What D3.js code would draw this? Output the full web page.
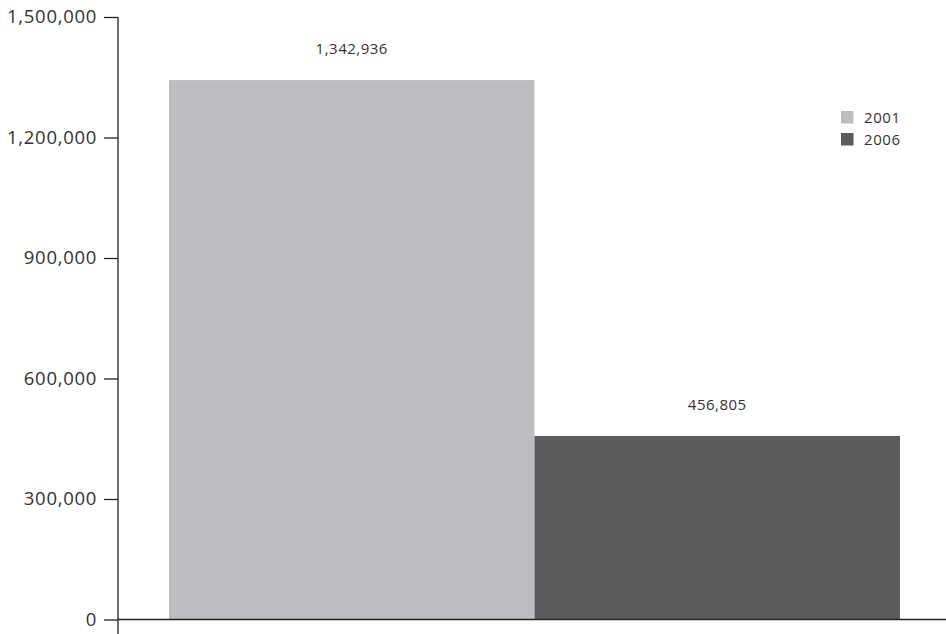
<!DOCTYPE html>
<html><head><meta charset="utf-8">
<script src="https://cdn.jsdelivr.net/npm/d3@7"></script>
<style>body{margin:0;background:#fff}svg{display:block}text{font-family:"Open Sans",sans-serif}</style>
</head><body>
<svg id="c" width="946" height="634"></svg>
<script>
const categories = ["2001", "2006"];
const values = [1342936, 456805];
const colors = ["#bcbdc1", "#5a5b5d"];
const yTicks = [0, 300000, 600000, 900000, 1200000, 1500000];

const svg = d3.select("#c");
const x0 = 118, yBase = 619.5, yTop = 17, xEnd = 946;
const x = d3.scaleBand().domain(categories).range([169, 900]).padding(0);
const y = d3.scaleLinear().domain([0, 1500000]).range([yBase, yTop]);

// axis
const ax = svg.append("g").attr("transform", `translate(${x0},0)`)
  .call(d3.axisLeft(y).tickValues(yTicks).tickFormat(d3.format(",")).tickSize(14).tickPadding(7));
ax.select(".domain").remove();
ax.selectAll(".tick line").attr("stroke", "#222").attr("stroke-width", 1.3);
ax.selectAll(".tick text").attr("font-size", 18.5).attr("letter-spacing", 0.7).attr("fill", "#333").attr("font-family", '"Open Sans",sans-serif');
svg.append("line").attr("x1", x0).attr("x2", x0).attr("y1", yTop).attr("y2", 634).attr("stroke", "#222").attr("stroke-width", 1.3);

// bars
svg.selectAll("rect.bar").data(values).join("rect").attr("class", "bar")
  .attr("x", (d, i) => x(categories[i])).attr("width", x.bandwidth())
  .attr("y", d => y(d)).attr("height", d => yBase - y(d))
  .attr("fill", (d, i) => colors[i]);

// baseline
svg.append("line").attr("x1", x0).attr("x2", xEnd).attr("y1", yBase).attr("y2", yBase).attr("stroke", "#222").attr("stroke-width", 1.3);

// value labels
svg.selectAll("text.val").data(values).join("text").attr("class", "val")
  .attr("x", (d, i) => x(categories[i]) + x.bandwidth() / 2)
  .attr("y", d => y(d) - 26).attr("text-anchor", "middle")
  .attr("font-size", 15).attr("letter-spacing", 0.5).attr("fill", "#333").text(d3.format(","));

// legend
const lg = svg.append("g").attr("transform", "translate(841,111)");
categories.forEach((c, i) => {
  lg.append("rect").attr("x", 0).attr("y", i * 22).attr("width", 12.5).attr("height", 12.5).attr("fill", colors[i]);
  lg.append("text").attr("x", 23).attr("y", i * 22 + 11.5).attr("font-size", 15).attr("letter-spacing", 0.6).attr("fill", "#333").text(c);
});
</script>
</body></html>
